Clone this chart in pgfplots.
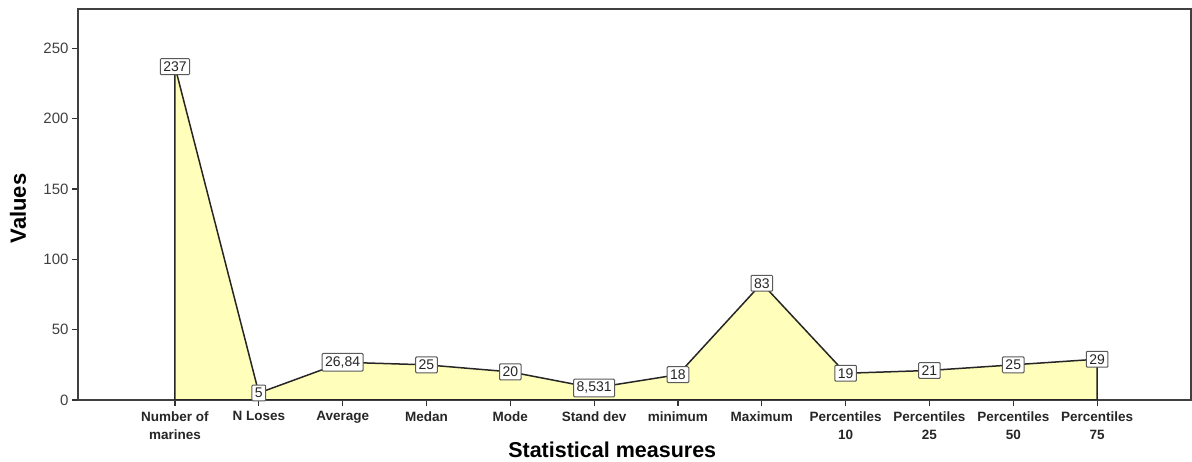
\documentclass[border=0pt]{standalone}
\usepackage{fontspec}
\setmainfont{Liberation Sans}
\usepackage{pgfplots}
\pgfplotsset{compat=1.18}
\definecolor{areafill}{RGB}{255,255,187}
\begin{document}
\begin{tikzpicture}
\begin{axis}[
    scale only axis,
    width=1113pt, height=391pt,
    xmin=-1.157, xmax=12.12,
    ymin=0, ymax=278,
    xtick={0,...,11},
    xticklabels={{Number of\\marines},{N Loses},{Average},{Medan},{Mode},{Stand dev},{minimum},{Maximum},{Percentiles\\10},{Percentiles\\25},{Percentiles\\50},{Percentiles\\75}},
    x tick label style={font=\fontsize{13.5}{18}\selectfont\bfseries, align=center, text=black!85, yshift=-2pt},
    ytick={0,50,100,150,200,250},
    y tick label style={font=\fontsize{15}{16}\selectfont, text=black!75},
    /pgf/number format/assume math mode=true,
    xtick pos=bottom, ytick pos=left,
    tick align=outside,
    major tick length=6pt,
    tick style={black!80, line width=1.2pt},
    axis line style={black!75, line width=1.5pt},
    xlabel={Statistical measures},
    ylabel={Values},
    xlabel style={font=\fontsize{21.5}{24}\selectfont\bfseries, at={(axis description cs:0.48,0)}, anchor=north, yshift=-38pt},
    ylabel style={font=\fontsize{22}{24}\selectfont\bfseries, at={(axis description cs:0,0.49)}, anchor=center, yshift=60pt},
    nodes near coords={\pgfplotspointmeta},
    point meta=explicit symbolic,
    every node near coord/.append style={anchor=center, font=\fontsize{14}{16}\selectfont, text=black!85, fill=white, draw=black!65, line width=1pt, inner sep=3pt, rounded corners=1pt},
]
\addplot[draw=black!85, line width=1.5pt, fill=areafill, mark=none] coordinates {
    (0,237) [237]
    (1,5) [5]
    (2,26.84) [26,84]
    (3,25) [25]
    (4,20) [20]
    (5,8.531) [8,531]
    (6,18) [18]
    (7,83) [83]
    (8,19) [19]
    (9,21) [21]
    (10,25) [25]
    (11,29) [29]
} \closedcycle;
\end{axis}
\pgfresetboundingbox
\path[use as bounding box] (-78pt,-62pt) rectangle (1114pt,400pt);
\end{tikzpicture}
\end{document}
